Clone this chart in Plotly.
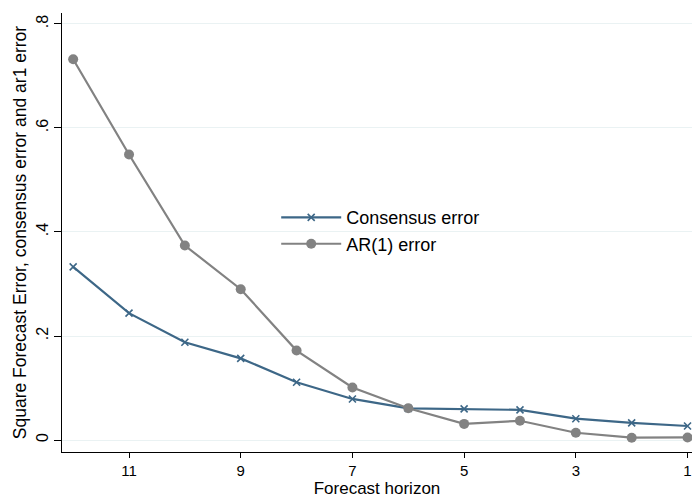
import plotly.graph_objects as go

horizon = [12, 11, 10, 9, 8, 7, 6, 5, 4, 3, 2, 1]
consensus_error = [0.333, 0.244, 0.188, 0.157, 0.111, 0.079, 0.061, 0.060, 0.058, 0.041, 0.033, 0.027]
ar1_error = [0.732, 0.549, 0.374, 0.290, 0.172, 0.101, 0.061, 0.031, 0.037, 0.014, 0.0045, 0.005]
x_ticks = [11, 9, 7, 5, 3, 1]
y_ticks = [0, 0.2, 0.4, 0.6, 0.8]
y_ticklabels = ["0", ".2", ".4", ".6", ".8"]

font = "Liberation Sans, Arial, sans-serif"

fig = go.Figure()
fig.add_trace(go.Scatter(
    x=horizon, y=consensus_error, name="Consensus error", mode="lines+markers",
    line=dict(color="#3d6787", width=2.2),
    marker=dict(symbol="x-thin-open", size=7, color="#3d6787", line=dict(width=1.6, color="#3d6787")),
))
fig.add_trace(go.Scatter(
    x=horizon, y=ar1_error, name="AR(1) error", mode="lines+markers",
    line=dict(color="#828282", width=2.2),
    marker=dict(symbol="circle", size=10, color="#828282"),
))

fig.update_layout(
    width=694, height=498,
    margin=dict(l=62, r=2, t=13, b=46),
    paper_bgcolor="white", plot_bgcolor="white",
    font=dict(family=font, size=16, color="black"),
    showlegend=True,
    legend=dict(x=0.34, y=0.576, xanchor="left", yanchor="top",
                bgcolor="rgba(0,0,0,0)", font=dict(size=18, family=font),
                tracegroupgap=0, itemwidth=60),
    xaxis=dict(
        range=[12.2, 0.92], tickvals=x_ticks, ticks="outside", ticklen=5,
        tickcolor="black", showline=True, linecolor="black", linewidth=1,
        showgrid=False, zeroline=False,
        title=dict(text="Forecast horizon", font=dict(size=17), standoff=0),
        tickfont=dict(size=15),
    ),
    yaxis=dict(
        range=[-0.023, 0.821], tickvals=y_ticks, ticktext=y_ticklabels,
        tickangle=-90, ticks="outside", ticklen=7, tickcolor="black",
        showline=True, linecolor="black", linewidth=1,
        showgrid=True, gridcolor="#eaf2f3", gridwidth=1.2, zeroline=False,
        title=dict(text="Square Forecast Error, consensus error and ar1 error", font=dict(size=17.5), standoff=2),
        tickfont=dict(size=16),
    ),
)

fig.write_html("out.html")
